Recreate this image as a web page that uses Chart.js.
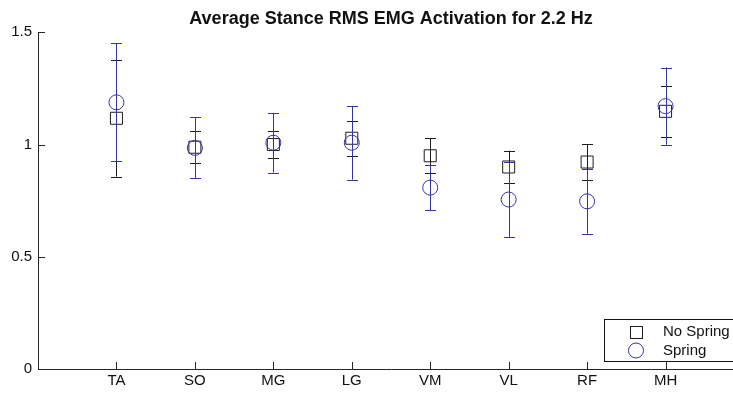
<!DOCTYPE html>
<html>
<head>
<meta charset="utf-8">
<script src="https://cdn.jsdelivr.net/npm/chart.js@4/dist/chart.umd.min.js"></script>
<style>
  html, body { margin: 0; padding: 0; background: #fff; overflow: hidden; }
  #wrap { width: 760px; height: 393px; }
</style>
</head>
<body>
<div id="wrap"><canvas id="c" width="760" height="393"></canvas></div>
<script>
// ---- data ----
const categories = ['TA', 'SO', 'MG', 'LG', 'VM', 'VL', 'RF', 'MH'];
const noSpringMean = [1.117, 0.988, 1.000, 1.028, 0.950, 0.900, 0.922, 1.148];
const noSpringErr  = [0.260, 0.072, 0.060, 0.077, 0.078, 0.073, 0.079, 0.113];
const springMean   = [1.188, 0.985, 1.008, 1.008, 0.808, 0.755, 0.747, 1.171];
const springErr    = [0.263, 0.136, 0.133, 0.164, 0.100, 0.167, 0.144, 0.172];
const yTicks = [0, 0.5, 1, 1.5];
const titleText = 'Average Stance RMS EMG Activation for 2.2 Hz';
const legendLabels = ['No Spring', 'Spring'];

const BLACK = '#1e1e1e';
const BLUE = '#3434a8';
const AXIS = '#262626';
const FONT = '"Liberation Sans", Arial, Helvetica, sans-serif';

const toPoints = arr => arr.map((v, i) => ({ x: i + 1, y: v }));

const errorBarPlugin = {
  id: 'errorBars',
  beforeDatasetDraw(chart, args) {
    const ds = chart.data.datasets[args.index];
    if (!ds.errors) return;
    const xs = chart.scales.x, ys = chart.scales.y;
    const ctx = chart.ctx;
    const cap = 5.5;
    ctx.save();
    ctx.strokeStyle = ds.borderColor;
    ctx.lineWidth = 1;
    ds.data.forEach((p, i) => {
      const e = ds.errors[i];
      const px = Math.round(xs.getPixelForValue(p.x)) + 0.5;
      const top = ys.getPixelForValue(p.y + e);
      const bot = ys.getPixelForValue(p.y - e);
      ctx.beginPath();
      ctx.moveTo(px, top); ctx.lineTo(px, bot);
      ctx.moveTo(px - cap, Math.round(top) + 0.5); ctx.lineTo(px + cap, Math.round(top) + 0.5);
      ctx.moveTo(px - cap, Math.round(bot) + 0.5); ctx.lineTo(px + cap, Math.round(bot) + 0.5);
      ctx.stroke();
    });
    ctx.restore();
  }
};

const axisDecorPlugin = {
  id: 'axisDecor',
  afterDraw(chart) {
    const ctx = chart.ctx;
    const ca = chart.chartArea;
    const xs = chart.scales.x, ys = chart.scales.y;
    const tl = 7;
    ctx.save();
    ctx.strokeStyle = AXIS;
    ctx.lineWidth = 1;
    ctx.beginPath();
    ys.ticks.forEach((t, i) => {
      const py = Math.round(ys.getPixelForTick(i)) + 0.5;
      ctx.moveTo(ca.left, py); ctx.lineTo(ca.left + tl, py);
    });
    xs.ticks.forEach((t, i) => {
      const px = Math.round(xs.getPixelForTick(i)) + 0.5;
      ctx.moveTo(px, ca.bottom); ctx.lineTo(px, ca.bottom - tl);
    });
    ctx.stroke();

    // legend box
    const lx = ca.right - 140, lb = ca.bottom - 8, lh = 42;
    const ly = lb - lh;
    ctx.fillStyle = '#fff';
    ctx.fillRect(lx, ly, 160, lh);
    ctx.strokeStyle = '#111';
    ctx.strokeRect(Math.round(lx) + 0.5, Math.round(ly) + 0.5, 160, lh);
    const mx = lx + 32;
    ctx.strokeStyle = BLACK;
    ctx.strokeRect(Math.round(mx - 6) + 0.5, Math.round(ly + 13 - 6) + 0.5, 12, 12);
    ctx.strokeStyle = BLUE;
    ctx.beginPath();
    ctx.arc(mx, ly + 31.5, 7.5, 0, Math.PI * 2);
    ctx.stroke();
    ctx.fillStyle = '#111';
    ctx.font = '15px ' + FONT;
    ctx.textBaseline = 'middle';
    ctx.textAlign = 'left';
    ctx.fillText(legendLabels[0], lx + 59, ly + 13);
    ctx.fillText(legendLabels[1], lx + 59, ly + 31.5);
    ctx.restore();
  }
};

new Chart(document.getElementById('c'), {
  type: 'scatter',
  data: {
    datasets: [
      {
        label: legendLabels[0],
        data: toPoints(noSpringMean),
        errors: noSpringErr,
        pointStyle: 'rect',
        pointRadius: 8.5,
        pointBorderWidth: 1,
        borderColor: BLACK,
        backgroundColor: 'rgba(0,0,0,0)',
        pointBackgroundColor: 'rgba(0,0,0,0)',
        order: 2
      },
      {
        label: legendLabels[1],
        data: toPoints(springMean),
        errors: springErr,
        pointStyle: 'circle',
        pointRadius: 7.5,
        pointBorderWidth: 1,
        borderColor: BLUE,
        backgroundColor: 'rgba(0,0,0,0)',
        pointBackgroundColor: 'rgba(0,0,0,0)',
        order: 1
      }
    ]
  },
  options: {
    responsive: false,
    animation: false,
    events: [],
    layout: { padding: { left: 0, right: 16, top: 0, bottom: 0 } },
    plugins: {
      legend: { display: false },
      tooltip: { enabled: false },
      title: {
        display: true,
        text: titleText,
        fullSize: false,
        color: '#111',
        font: { family: FONT, size: 18, weight: 'bold' },
        padding: { top: 8, bottom: 2.7 }
      }
    },
    scales: {
      x: {
        type: 'linear',
        min: 0,
        max: 9,
        afterBuildTicks(scale) { scale.ticks = categories.map((c, i) => ({ value: i + 1 })); },
        afterFit(scale) { scale.height = 24; },
        ticks: {
          callback: v => categories[v - 1],
          color: '#111',
          font: { family: FONT, size: 15 },
          padding: 3,
          maxRotation: 0,
          autoSkip: false
        },
        grid: { display: true, drawOnChartArea: false, drawTicks: false },
        border: { display: true, color: AXIS, width: 1 }
      },
      y: {
        min: 0,
        max: 1.5,
        afterBuildTicks(scale) { scale.ticks = yTicks.map(v => ({ value: v })); },
        afterFit(scale) { scale.width = 38; },
        ticks: {
          callback: v => String(v),
          color: '#111',
          font: { family: FONT, size: 15 },
          padding: 6
        },
        grid: { display: true, drawOnChartArea: false, drawTicks: false },
        border: { display: true, color: AXIS, width: 1 }
      }
    }
  },
  plugins: [errorBarPlugin, axisDecorPlugin]
});
</script>
</body>
</html>
